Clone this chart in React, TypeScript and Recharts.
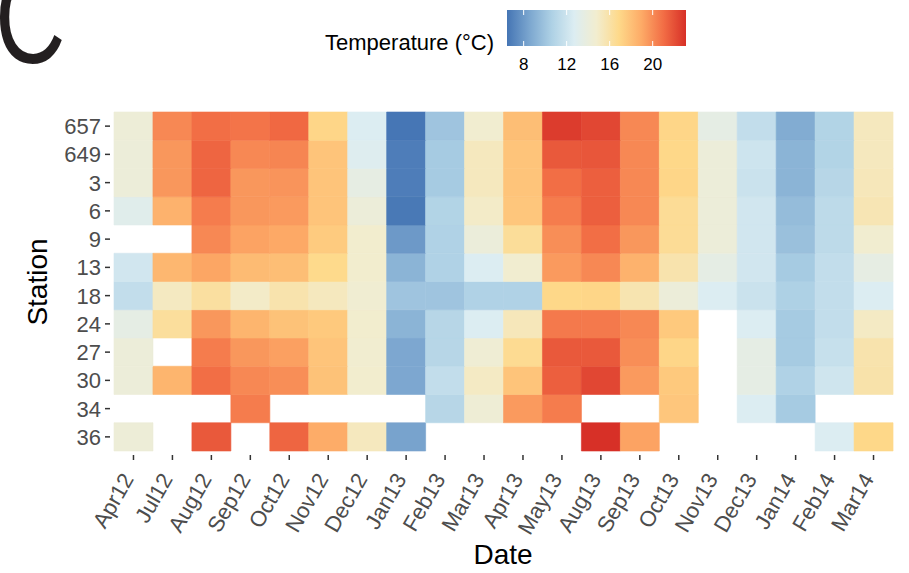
import React from 'react';
import { BarChart, Bar, XAxis, YAxis, Cell } from 'recharts';

const dates = [
  'Apr12', 'Jul12', 'Aug12', 'Sep12', 'Oct12', 'Nov12', 'Dec12', 'Jan13', 'Feb13', 'Mar13',
  'Apr13', 'May13', 'Aug13', 'Sep13', 'Oct13', 'Nov13', 'Dec13', 'Jan14', 'Feb14', 'Mar14',
];

// top to bottom, as drawn
const stations = ['657', '649', '3', '6', '9', '13', '18', '24', '27', '30', '34', '36'];

// mean temperature (°C) per station, one value per date, null = not sampled
const t657 = [14.3, 20.1, 21.0, 20.8, 21.2, 17.0, 12.7, 6.5, 10.0, 14.7, 18.1, 22.7, 22.3, 20.1, 17.0, 13.5, 11.5, 8.8, 10.8, 15.3];
const t649 = [14.2, 19.6, 21.3, 20.1, 20.2, 17.8, 12.9, 6.8, 10.3, 15.3, 17.8, 21.7, 21.8, 20.1, 16.9, 14.2, 12.0, 9.2, 10.8, 15.3];
const t3 = [14.2, 19.6, 21.3, 19.6, 19.7, 17.8, 13.6, 6.8, 10.3, 15.3, 17.8, 21.0, 21.5, 20.1, 17.0, 14.2, 11.9, 9.2, 11.0, 15.4];
const t6 = [13.1, 18.6, 20.5, 19.6, 19.5, 17.8, 14.2, 6.6, 10.8, 15.0, 17.7, 20.5, 21.5, 20.1, 16.5, 14.2, 12.2, 9.6, 11.3, 15.6];
const t9 = [null, null, 20.1, 19.2, 19.0, 17.5, 14.8, 8.0, 10.7, 14.1, 16.4, 19.9, 21.0, 19.6, 16.5, 14.2, 12.2, 9.8, 11.3, 14.7];
const t13 = [12.2, 18.4, 19.1, 18.2, 18.1, 16.8, 14.8, 9.2, 10.7, 12.7, 14.7, 19.5, 20.1, 18.6, 15.8, 13.5, 12.2, 10.3, 11.5, 13.6];
const t18 = [11.5, 15.2, 16.2, 15.0, 15.8, 15.3, 14.6, 10.0, 10.0, 10.7, 10.7, 16.9, 17.0, 15.7, 14.2, 12.7, 11.9, 10.6, 11.5, 12.7];
const t24 = [13.5, 16.3, 19.6, 18.5, 17.9, 17.6, 14.8, 9.2, 11.0, 12.7, 15.4, 20.6, 20.6, 20.1, 17.6, null, 12.7, 10.3, 11.5, 15.1];
const t27 = [14.2, null, 20.5, 19.6, 19.3, 17.8, 14.7, 8.6, 11.0, 14.5, 16.6, 21.7, 21.7, 19.9, 17.0, null, 13.5, 10.3, 11.7, 15.8];
const t30 = [14.2, 18.5, 21.0, 20.1, 19.9, 17.9, 14.8, 8.6, 11.5, 15.1, 17.8, 21.5, 22.3, 19.5, 17.6, null, 13.5, 10.7, 12.1, 15.9];
const t34 = [null, null, null, 20.5, null, null, null, null, 11.0, 14.4, 19.5, 20.5, null, null, 17.7, null, 12.7, 10.3, null, null];
const t36 = [14.3, null, 21.7, null, 21.3, 18.9, 15.3, 8.4, null, null, null, null, 23.1, 19.2, null, null, null, null, 12.7, 16.9];

const legendTicks = [8, 12, 16, 20];

const temps: Record<string, (number | null)[]> = {
  '657': t657, '649': t649, '3': t3, '6': t6, '9': t9, '13': t13,
  '18': t18, '24': t24, '27': t27, '30': t30, '34': t34, '36': t36,
};

// colour scale (reversed RdYlBu)
const tMin = 6.45;
const tMax = 23.1;
const scaleColors = ['#4575b4', '#7ba6cf', '#aed1e5', '#dcedf2', '#f2edcf', '#fed98a', '#fdab67', '#f26d45', '#d73027'];

function hexToRgb(h: string) {
  return [1, 3, 5].map((i) => parseInt(h.slice(i, i + 2), 16));
}

function tempColor(v: number) {
  const t = Math.min(1, Math.max(0, (v - tMin) / (tMax - tMin))) * (scaleColors.length - 1);
  const i = Math.min(scaleColors.length - 2, Math.floor(t));
  const f = t - i;
  const a = hexToRgb(scaleColors[i]);
  const b = hexToRgb(scaleColors[i + 1]);
  const c = a.map((x, k) => Math.round(x + (b[k] - x) * f));
  return `rgb(${c[0]},${c[1]},${c[2]})`;
}

// bottom station first so the stack grows upward
const stackOrder = [...stations].reverse();

const chartData = dates.map((d) => {
  const row: Record<string, string | number> = { date: d };
  stackOrder.forEach((s) => {
    row[`s${s}`] = 1;
  });
  return row;
});

const FONT = '"Liberation Sans", Arial, Helvetica, sans-serif';

function XTick({ x, y, payload }: any) {
  return (
    <g>
      <line x1={x} x2={x} y1={y + 4} y2={y + 9} stroke="#333" strokeWidth={1.5} />
      <text
        transform={`translate(${x + 1},${y + 28}) rotate(-60)`}
        textAnchor="end"
        fontSize={22}
        fill="#4d4d4d"
        fontFamily={FONT}
      >
        {payload.value}
      </text>
    </g>
  );
}

function YTick({ x, y, payload }: any) {
  const label = stackOrder[Math.floor(payload.value)];
  return (
    <g>
      <line x1={x - 9} x2={x - 4} y1={y} y2={y} stroke="#333" strokeWidth={1.5} />
      <text
        x={x - 13}
        y={y}
        dy="0.36em"
        textAnchor="end"
        fontSize={22}
        fill="#4d4d4d"
        fontFamily={FONT}
      >
        {label}
      </text>
    </g>
  );
}

function ColourLegend() {
  const x0 = 507;
  const w = 179;
  const px = (v: number) => x0 + ((v - tMin) / (tMax - tMin)) * w;
  return (
    <svg width={909} height={90} style={{ position: 'absolute', left: 0, top: 0 }}>
      <defs>
        <linearGradient id="tempGrad" x1="0" x2="1" y1="0" y2="0">
          {scaleColors.map((c, i) => (
            <stop key={c} offset={i / (scaleColors.length - 1)} stopColor={c} />
          ))}
        </linearGradient>
      </defs>
      {/* panel letter, partly cut by the top edge like the original */}
      <text transform="translate(-5,63) scale(0.74,1)" fontSize={132} fontFamily={FONT} fill="#231f20">
        C
      </text>
      <text x={494} y={50} textAnchor="end" fontSize={22} fontFamily={FONT} fill="#000">
        Temperature (°C)
      </text>
      <rect x={x0} y={10} width={w} height={36} fill="url(#tempGrad)" />
      {legendTicks.map((v) => (
        <g key={v}>
          <line x1={px(v)} x2={px(v)} y1={10} y2={15} stroke="#fff" strokeWidth={1} />
          <line x1={px(v)} x2={px(v)} y1={41} y2={46} stroke="#fff" strokeWidth={1} />
          <text x={px(v)} y={70} textAnchor="middle" fontSize={17} fontFamily={FONT} fill="#000">
            {v}
          </text>
        </g>
      ))}
    </svg>
  );
}

export default function App() {
  return (
    <div style={{ position: 'absolute', left: 0, top: 0, width: 909, height: 573, background: '#fff', fontFamily: FONT }}>
      <BarChart
        width={909}
        height={573}
        data={chartData}
        margin={{ top: 112, right: 16, bottom: 0, left: 0 }}
        barCategoryGap={0}
        barGap={0}
      >
        <XAxis
          dataKey="date"
          interval={0}
          height={122}
          tickSize={0}
          tickMargin={0}
          tickLine={false}
          axisLine={false}
          tick={<XTick />}
        />
        <YAxis
          type="number"
          domain={[0, 12]}
          ticks={stackOrder.map((_, i) => i + 0.5)}
          width={114}
          tickSize={0}
          tickMargin={0}
          tickLine={false}
          axisLine={false}
          tick={<YTick />}
        />
        {stackOrder.map((s) => (
          <Bar key={s} dataKey={`s${s}`} stackId="grid" isAnimationActive={false}>
            {temps[s].map((v, i) => (
              <Cell
                key={i}
                fill={v == null ? 'transparent' : tempColor(v)}
                stroke={v == null ? 'none' : tempColor(v)}
                strokeWidth={0.6}
              />
            ))}
          </Bar>
        ))}
      </BarChart>
      <ColourLegend />
      <div
        style={{
          position: 'absolute',
          left: 38,
          top: 282,
          transform: 'translate(-50%, -50%) rotate(-90deg)',
          fontSize: 28,
          color: '#000',
          whiteSpace: 'nowrap',
        }}
      >
        Station
      </div>
      <div
        style={{
          position: 'absolute',
          left: 503,
          top: 555,
          transform: 'translate(-50%, -50%)',
          fontSize: 28,
          color: '#000',
        }}
      >
        Date
      </div>
    </div>
  );
}
